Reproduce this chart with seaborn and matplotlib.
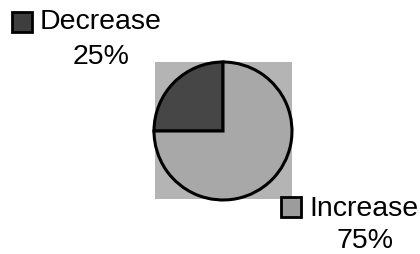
import matplotlib
matplotlib.use("Agg")
import matplotlib.pyplot as plt
import seaborn as sns
from matplotlib.patches import Rectangle

# data
categories = ['Decrease', 'Increase']
shares = [25, 75]
share_labels = ['25%', '75%']

slice_colors = ['#464646', '#a8a8a8']
marker_colors = ['#3e3e3e', '#9c9c9c']


def draw_chart():
    sns.set_style('white')
    plt.rcParams['font.family'] = ['Liberation Sans', 'DejaVu Sans']

    fig = plt.figure(figsize=(4.2, 2.55), dpi=100)
    ax = fig.add_axes([0, 0, 1, 1])

    # stippled square behind the pie
    ax.add_patch(Rectangle((155, 255 - 200), 137, 137, facecolor='#b4b4b4',
                           edgecolor='none', zorder=0))

    ax.pie(shares, colors=slice_colors, startangle=90, counterclock=True,
           center=(223, 255 - 132), radius=69, frame=True,
           wedgeprops={'edgecolor': 'black', 'linewidth': 2.2})
    ax.set_xlim(0, 420)
    ax.set_ylim(0, 255)
    ax.set_aspect('equal')
    ax.axis('off')

    # labels with little square keys
    key_pos = [(12, 255 - 33), (281, 255 - 218)]
    name_pos = [(40, 255 - 22), (309, 255 - 209)]
    pct_pos = [(101, 255 - 57), (365, 255 - 241)]
    for i, name in enumerate(categories):
        ax.add_patch(Rectangle(key_pos[i], 20, 20, facecolor=marker_colors[i],
                               edgecolor='black', linewidth=2.0, zorder=3))
        ax.text(name_pos[i][0], name_pos[i][1], name, fontsize=20.5,
                ha='left', va='center', color='black')
        ax.text(pct_pos[i][0], pct_pos[i][1], share_labels[i], fontsize=20.5,
                ha='center', va='center', color='black')

    fig.savefig('out.png', dpi=100, facecolor='white')


if __name__ == "__main__":
    draw_chart()
